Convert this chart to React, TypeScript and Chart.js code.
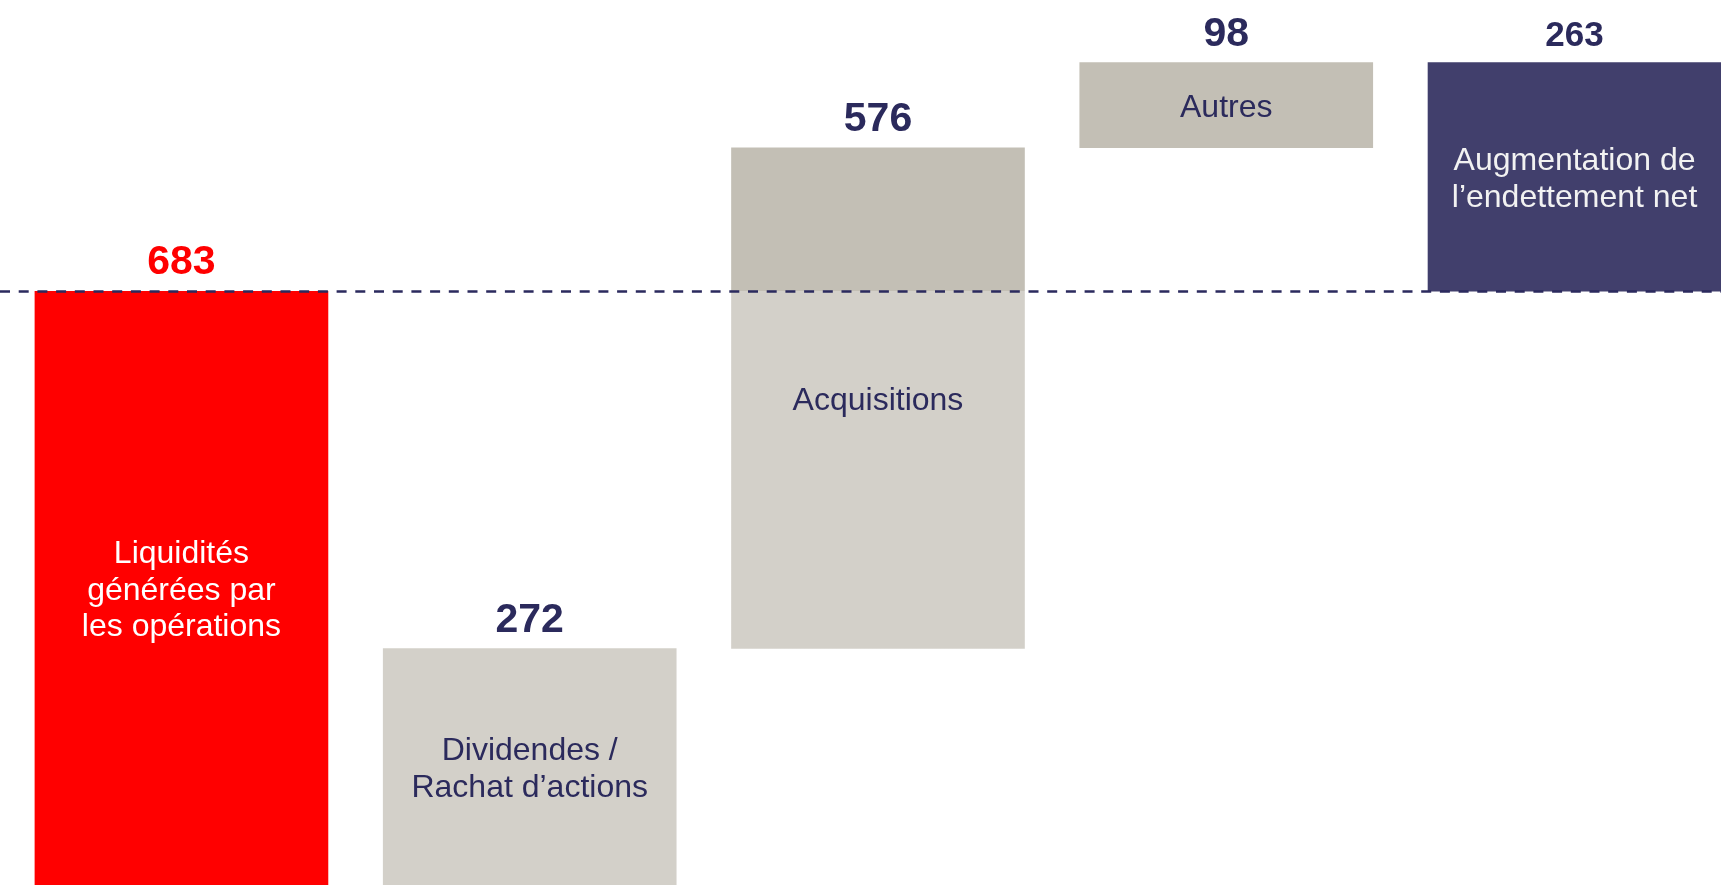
import React, { useEffect, useRef } from "react";
import { Chart, registerables } from "chart.js";

Chart.register(...registerables);

// ---- Data ----
const categories: string[][] = [
  ["Liquidités", "générées par", "les opérations"],
  ["Dividendes /", "Rachat d’actions"],
  ["Acquisitions"],
  ["Autres"],
  ["Augmentation de", "l’endettement net"],
];
const values: number[] = [683, 272, 576, 98, 263];
const flowTypes: string[] = ["source", "use", "use", "use", "source"];
const referenceValue = 683;

// ---- Styles ----
const RED = "#FF0000";
const NAVY_BAR = "#413F6C";
const NAVY_TEXT = "#2B2A5C";
const GRAY_LIGHT = "#D3D0C9";
const GRAY_DARK = "#C3BFB5";
const FONT = "'Liberation Sans', Arial, sans-serif";
const valueFontSizes = [41, 41, 41, 41, 35];

// build floating ranges (sources stack on each other, uses stack on each other)
function buildRanges(): [number, number][] {
  let src = 0;
  let use = 0;
  return values.map((v, i) => {
    if (flowTypes[i] === "source") {
      const r: [number, number] = [src, src + v];
      src += v;
      return r;
    }
    const r: [number, number] = [use, use + v];
    use += v;
    return r;
  });
}

export default function App() {
  const canvasRef = useRef<HTMLCanvasElement | null>(null);

  useEffect(() => {
    if (!canvasRef.current) return;
    const ranges = buildRanges();
    const firstSource = flowTypes.indexOf("source");
    const lastSource = flowTypes.lastIndexOf("source");

    const labelPlugin = {
      id: "waterfallLabels",
      afterDatasetsDraw(chart: any) {
        const { ctx, chartArea, scales } = chart;
        const y = scales.y;
        const meta = chart.getDatasetMeta(0);
        // dashed reference line
        const ry = Math.round(y.getPixelForValue(referenceValue)) + 0.5;
        ctx.save();
        ctx.strokeStyle = "#2B2A5E";
        ctx.lineWidth = 2.6;
        ctx.setLineDash([10, 8.7]);
        ctx.beginPath();
        ctx.moveTo(0, ry);
        ctx.lineTo(chart.width, ry);
        ctx.stroke();
        ctx.setLineDash([]);

        meta.data.forEach((bar: any, i: number) => {
          const x = bar.x;
          const top = Math.min(bar.y, bar.base);
          const bottom = Math.max(bar.y, bar.base);
          // value label
          ctx.font = `bold ${valueFontSizes[i]}px ${FONT}`;
          ctx.fillStyle = i === firstSource ? RED : NAVY_TEXT;
          ctx.textAlign = "center";
          ctx.textBaseline = "alphabetic";
          ctx.fillText(String(values[i]), x, top - 17);
          // inside label
          const lines = categories[i];
          const lh = 36.5;
          ctx.font = `32px ${FONT}`;
          ctx.fillStyle =
            i === firstSource || i === lastSource ? "#FFFFFF" : NAVY_TEXT;
          if (i === lastSource) ctx.fillStyle = "#F2F2F2";
          const visBottom = Math.min(bottom, chartArea.bottom);
          const cy = (top + visBottom) / 2;
          const n = lines.length;
          lines.forEach((ln, k) => {
            const baseline = cy + 11.5 + (k - (n - 1) / 2) * lh;
            ctx.fillText(ln, x, baseline);
          });
        });
        ctx.restore();
      },
    };

    const chart = new Chart(canvasRef.current, {
      type: "bar",
      data: {
        datasets: [
          {
            data: ranges.map((r, i) => ({ x: i, y: r })) as any,
            barThickness: 293,
            borderWidth: 0,
            backgroundColor: (c: any) => {
              const i = c.dataIndex;
              if (i === firstSource) return RED;
              if (flowTypes[i] === "source") return NAVY_BAR;
              const chartObj = c.chart;
              if (!chartObj.chartArea) return GRAY_LIGHT;
              const [lo, hi] = ranges[i];
              if (lo >= referenceValue) return GRAY_DARK;
              if (hi <= referenceValue) return GRAY_LIGHT;
              const ys = chartObj.scales.y;
              const pTop = ys.getPixelForValue(hi);
              const pBot = ys.getPixelForValue(lo);
              const pRef = ys.getPixelForValue(referenceValue);
              const g = chartObj.ctx.createLinearGradient(0, pTop, 0, pBot);
              const s = (pRef - pTop) / (pBot - pTop);
              g.addColorStop(0, GRAY_DARK);
              g.addColorStop(s, GRAY_DARK);
              g.addColorStop(Math.min(1, s + 0.0001), GRAY_LIGHT);
              g.addColorStop(1, GRAY_LIGHT);
              return g;
            },
          },
        ],
      },
      options: {
        animation: false,
        responsive: true,
        maintainAspectRatio: false,
        layout: { padding: 0 },
        plugins: {
          legend: { display: false },
          tooltip: { enabled: false },
          title: { display: false },
        },
        scales: {
          x: {
            type: "linear",
            display: false,
            min: -0.521,
            max: 4.4206,
            offset: false,
          },
          y: {
            display: false,
            min: 0,
            max: 1018,
          },
        },
      },
      plugins: [labelPlugin],
    });
    return () => chart.destroy();
  }, []);

  return (
    <div
      style={{
        position: "fixed",
        left: 0,
        top: 0,
        width: "1721px",
        height: "885px",
        background: "#FFFFFF",
      }}
    >
      <canvas ref={canvasRef} />
    </div>
  );
}
